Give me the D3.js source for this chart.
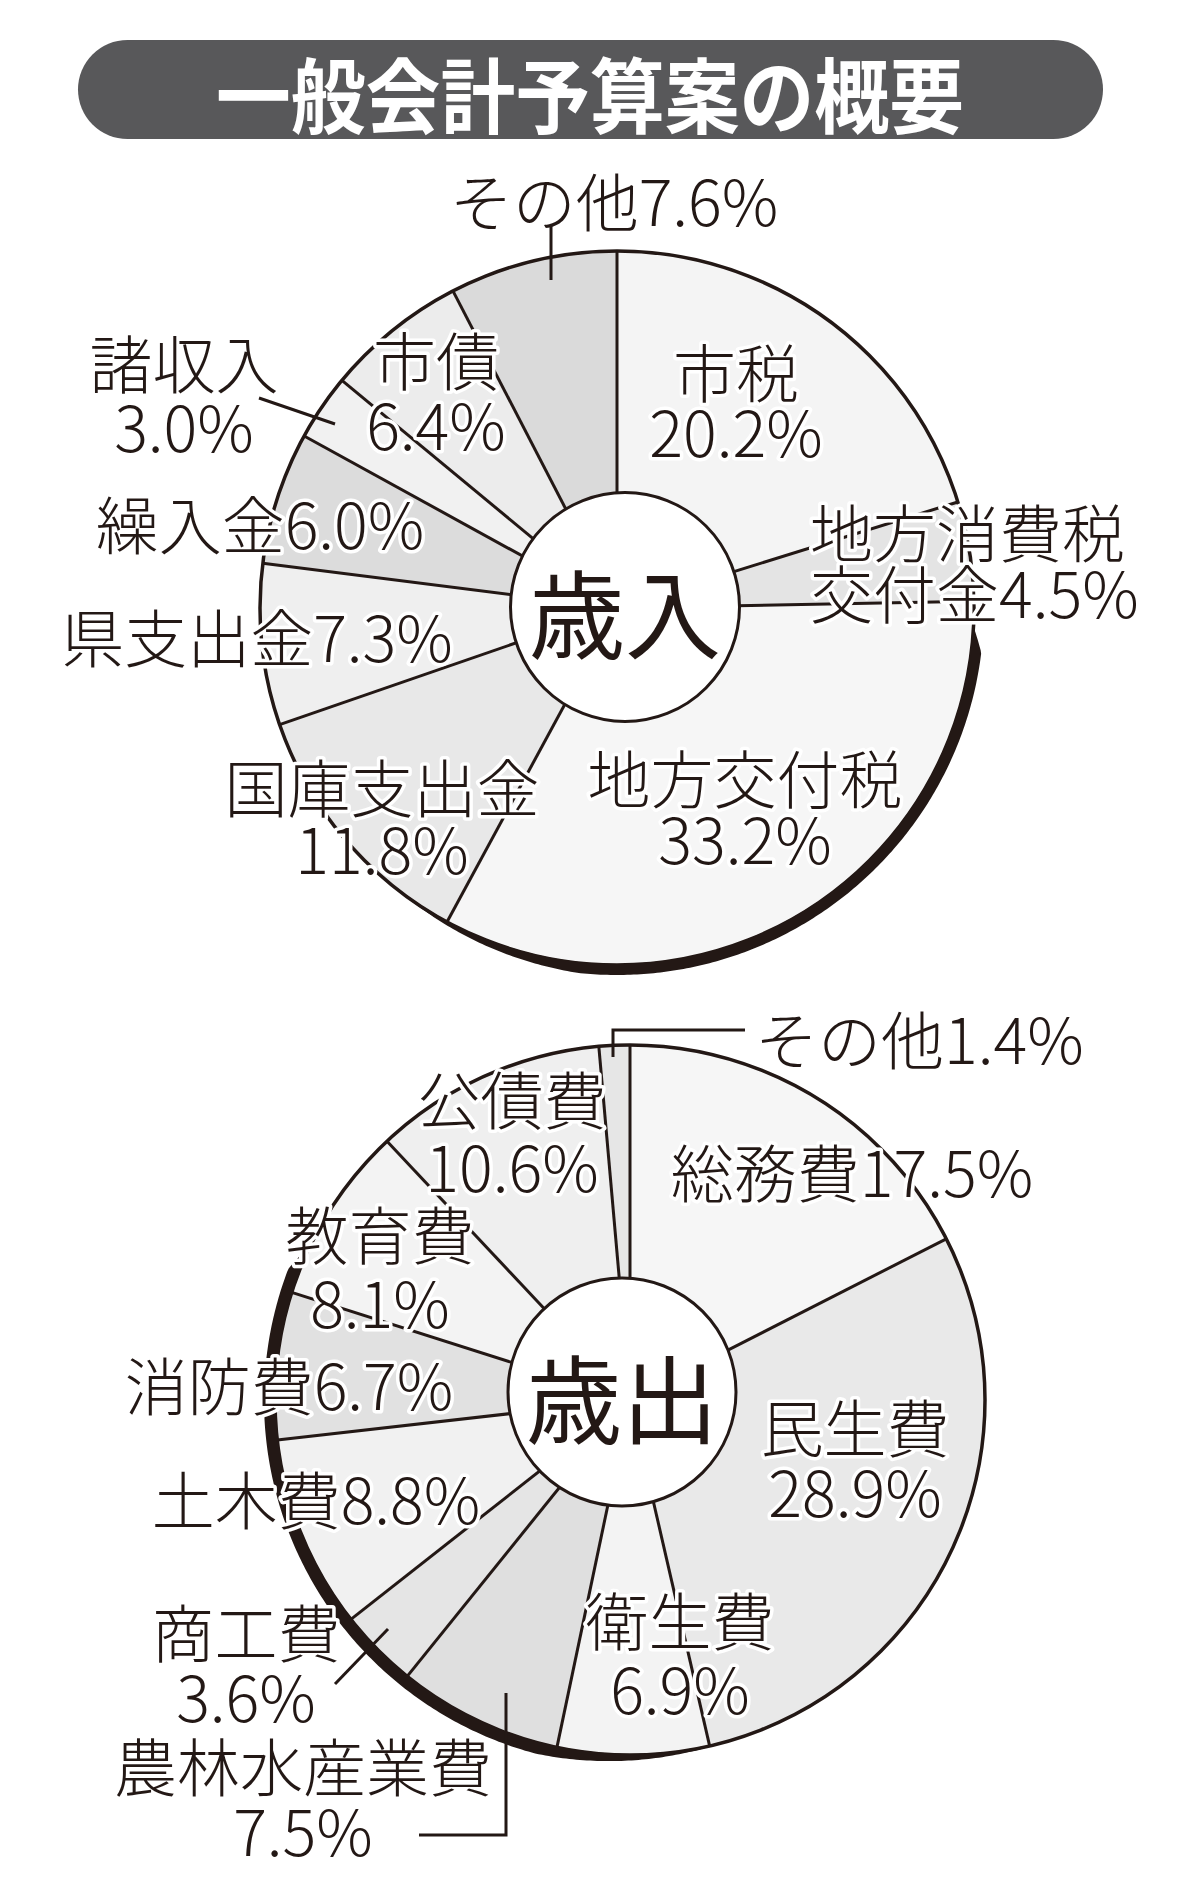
<!DOCTYPE html>
<html><head><meta charset="utf-8">
<script src="https://cdn.jsdelivr.net/npm/d3@7/dist/d3.min.js"></script>
<style>
html,body{margin:0;padding:0;background:#fff;}
svg{display:block;}
text{font-family:"Noto Sans CJK JP","Noto Sans CJK SC",sans-serif;}
</style></head>
<body>
<svg id="chart" width="1200" height="1890"></svg>
<script>
// ---- data ----
const titleText = "一般会計予算案の概要";
const revenueTitle = "歳入";
const revenueCategories = ["市税","地方消費税交付金","地方交付税","国庫支出金","県支出金","繰入金","諸収入","市債","その他"];
const revenueValues = [20.2,4.5,33.2,11.8,7.3,6.0,3.0,6.4,7.6];
const expenseTitle = "歳出";
const expenseCategories = ["総務費","民生費","衛生費","農林水産業費","商工費","土木費","消防費","教育費","公債費","その他"];
const expenseValues = [17.5,28.9,6.9,7.5,3.6,8.8,6.7,8.1,10.6,1.4];

// ---- styles ----
const revenueShades = ["#f4f4f4","#e4e4e4","#f6f6f6","#e8e8e8","#efefef","#dcdcdc","#f1f1f1","#ececec","#dadada"];
const expenseShades = ["#f6f6f6","#e9e9e9","#f3f3f3","#dfdfdf","#e5e5e5","#f1f1f1","#e1e1e1","#f3f3f3","#efefef","#e6e6e6"];
const ink = "#231815";

// ---- layout ----
const revenueLayout = {cx:617, cy:608, r:357, holeCx:625, holeCy:607, holeR:114.5,
  shadow:{a0:93, a1:218, T:10, rin:4, rout:32}};
const expenseLayout = {cx:630, cy:1400, r:355, holeCx:622, holeCy:1392, holeR:114,
  shadow:{a0:165, a1:296, T:11, rin:30, rout:5}};
// [x, [line y...], anchor, break]  break: null = one line, "v" = name / value, n = split name at n
const revenueLabelPos = [
  [736,[369,429],"middle","v"],
  [810,[529,590],"start",5],
  [745,[775,836],"middle","v"],
  [382,[784,846],"middle","v"],
  [257,[634],"middle",null],
  [260,[521],"middle",null],
  [184,[360,424],"middle","v"],
  [436,[357,422],"middle","v"],
  [614,[198],"middle",null]
];
const expenseLabelPos = [
  [852,[1169],"middle",null],
  [855,[1424,1489],"middle","v"],
  [680,[1617,1686],"middle","v"],
  [303,[1763,1828],"middle","v"],
  [246,[1629,1694],"middle","v"],
  [316,[1496],"middle",null],
  [289,[1382],"middle",null],
  [380,[1231,1300],"middle","v"],
  [512,[1096,1164],"middle","v"],
  [755,[1036],"start",null]
];
const revenueLeaders = [
  [[551,226],[551,280]],
  [[259,398],[335,424]]
];
const expenseLeaders = [
  [[745,1030],[613,1030],[613,1057]],
  [[335,1684],[388,1629]],
  [[506,1693],[506,1835],[419,1835]]
];

const svg = d3.select("#chart");
svg.append("rect").attr("width",1200).attr("height",1890).attr("fill","#fff");

// title bar
svg.append("rect").attr("x",78).attr("y",40).attr("width",1025).attr("height",99)
  .attr("rx",49.5).attr("ry",49.5).attr("fill","#58585a");
svg.append("text").attr("x",590).attr("y",91).attr("text-anchor","middle")
  .attr("dominant-baseline","central").attr("fill","#fff")
  .attr("font-size",82).attr("font-weight",700)
  .attr("textLength",748).attr("lengthAdjust","spacingAndGlyphs").text(titleText);

const fmt = d3.format(".1f");

function shadowPath(L){
  const s = L.shadow, n = 240, outer = [], inner = [];
  for(let i=0;i<=n;i++){
    const a = s.a0 + (s.a1-s.a0)*i/n;
    const t = s.T*Math.max(0, Math.min(1,(a-s.a0)/s.rin,(s.a1-a)/s.rout));
    const rad = a*Math.PI/180;
    outer.push([L.cx+(L.r+t)*Math.sin(rad), L.cy-(L.r+t)*Math.cos(rad)]);
    inner.push([L.cx+(L.r-1)*Math.sin(rad), L.cy-(L.r-1)*Math.cos(rad)]);
  }
  return d3.line()(outer.concat(inner.reverse())) + "Z";
}

function drawPie(cats, vals, shades, L, centerText, labelPos, leaders){
  const g = svg.append("g");
  const pie = d3.pie().sort(null).value(d=>d)(vals);
  const arc = d3.arc().innerRadius(0).outerRadius(L.r);
  const pg = g.append("g").attr("transform",`translate(${L.cx},${L.cy})`);
  pg.selectAll("path.slice").data(pie).join("path").attr("class","slice")
    .attr("d",arc).attr("fill",(d,i)=>shades[i]).attr("stroke","none");
  // boundaries
  pg.selectAll("line.b").data(pie).join("line").attr("class","b")
    .attr("x1",0).attr("y1",0)
    .attr("x2",d=>L.r*Math.sin(d.startAngle)).attr("y2",d=>-L.r*Math.cos(d.startAngle))
    .attr("stroke",ink).attr("stroke-width",3);
  // shadow
  g.append("path").attr("d",shadowPath(L)).attr("fill",ink);
  // outline
  pg.append("circle").attr("r",L.r).attr("fill","none").attr("stroke",ink).attr("stroke-width",3.5);
  // hole
  g.append("circle").attr("cx",L.holeCx).attr("cy",L.holeCy).attr("r",L.holeR)
    .attr("fill","#fff").attr("stroke",ink).attr("stroke-width",3);
  g.append("text").attr("x",L.holeCx).attr("y",L.holeCy+2).attr("text-anchor","middle")
    .attr("dominant-baseline","central").attr("font-size",96).attr("fill",ink).text(centerText);
  // labels (one text element per label, lines as tspans)
  cats.forEach((c,i)=>{
    const [x, ys, anchor, br] = labelPos[i];
    const v = fmt(vals[i])+"%";
    let lines;
    if(br===null) lines=[c+v];
    else if(br==="v") lines=[c,v];
    else lines=[c.slice(0,br), c.slice(br)+v];
    const t = g.append("text").attr("text-anchor",anchor)
      .attr("dominant-baseline","central").attr("font-size",63).attr("font-weight",300).attr("fill",ink)
      .attr("stroke","#fff").attr("stroke-width",7).attr("stroke-linejoin","round")
      .attr("paint-order","stroke");
    lines.forEach((s,j)=>{
      t.append("tspan").attr("x",x).attr("y",ys[j]).attr("dominant-baseline","central").text(s);
    });
  });
  leaders.forEach(p=>{
    g.append("path").attr("d",d3.line()(p)).attr("fill","none").attr("stroke",ink).attr("stroke-width",3);
  });
}

drawPie(revenueCategories, revenueValues, revenueShades, revenueLayout, revenueTitle, revenueLabelPos, revenueLeaders);
drawPie(expenseCategories, expenseValues, expenseShades, expenseLayout, expenseTitle, expenseLabelPos, expenseLeaders);
</script>
</body></html>
